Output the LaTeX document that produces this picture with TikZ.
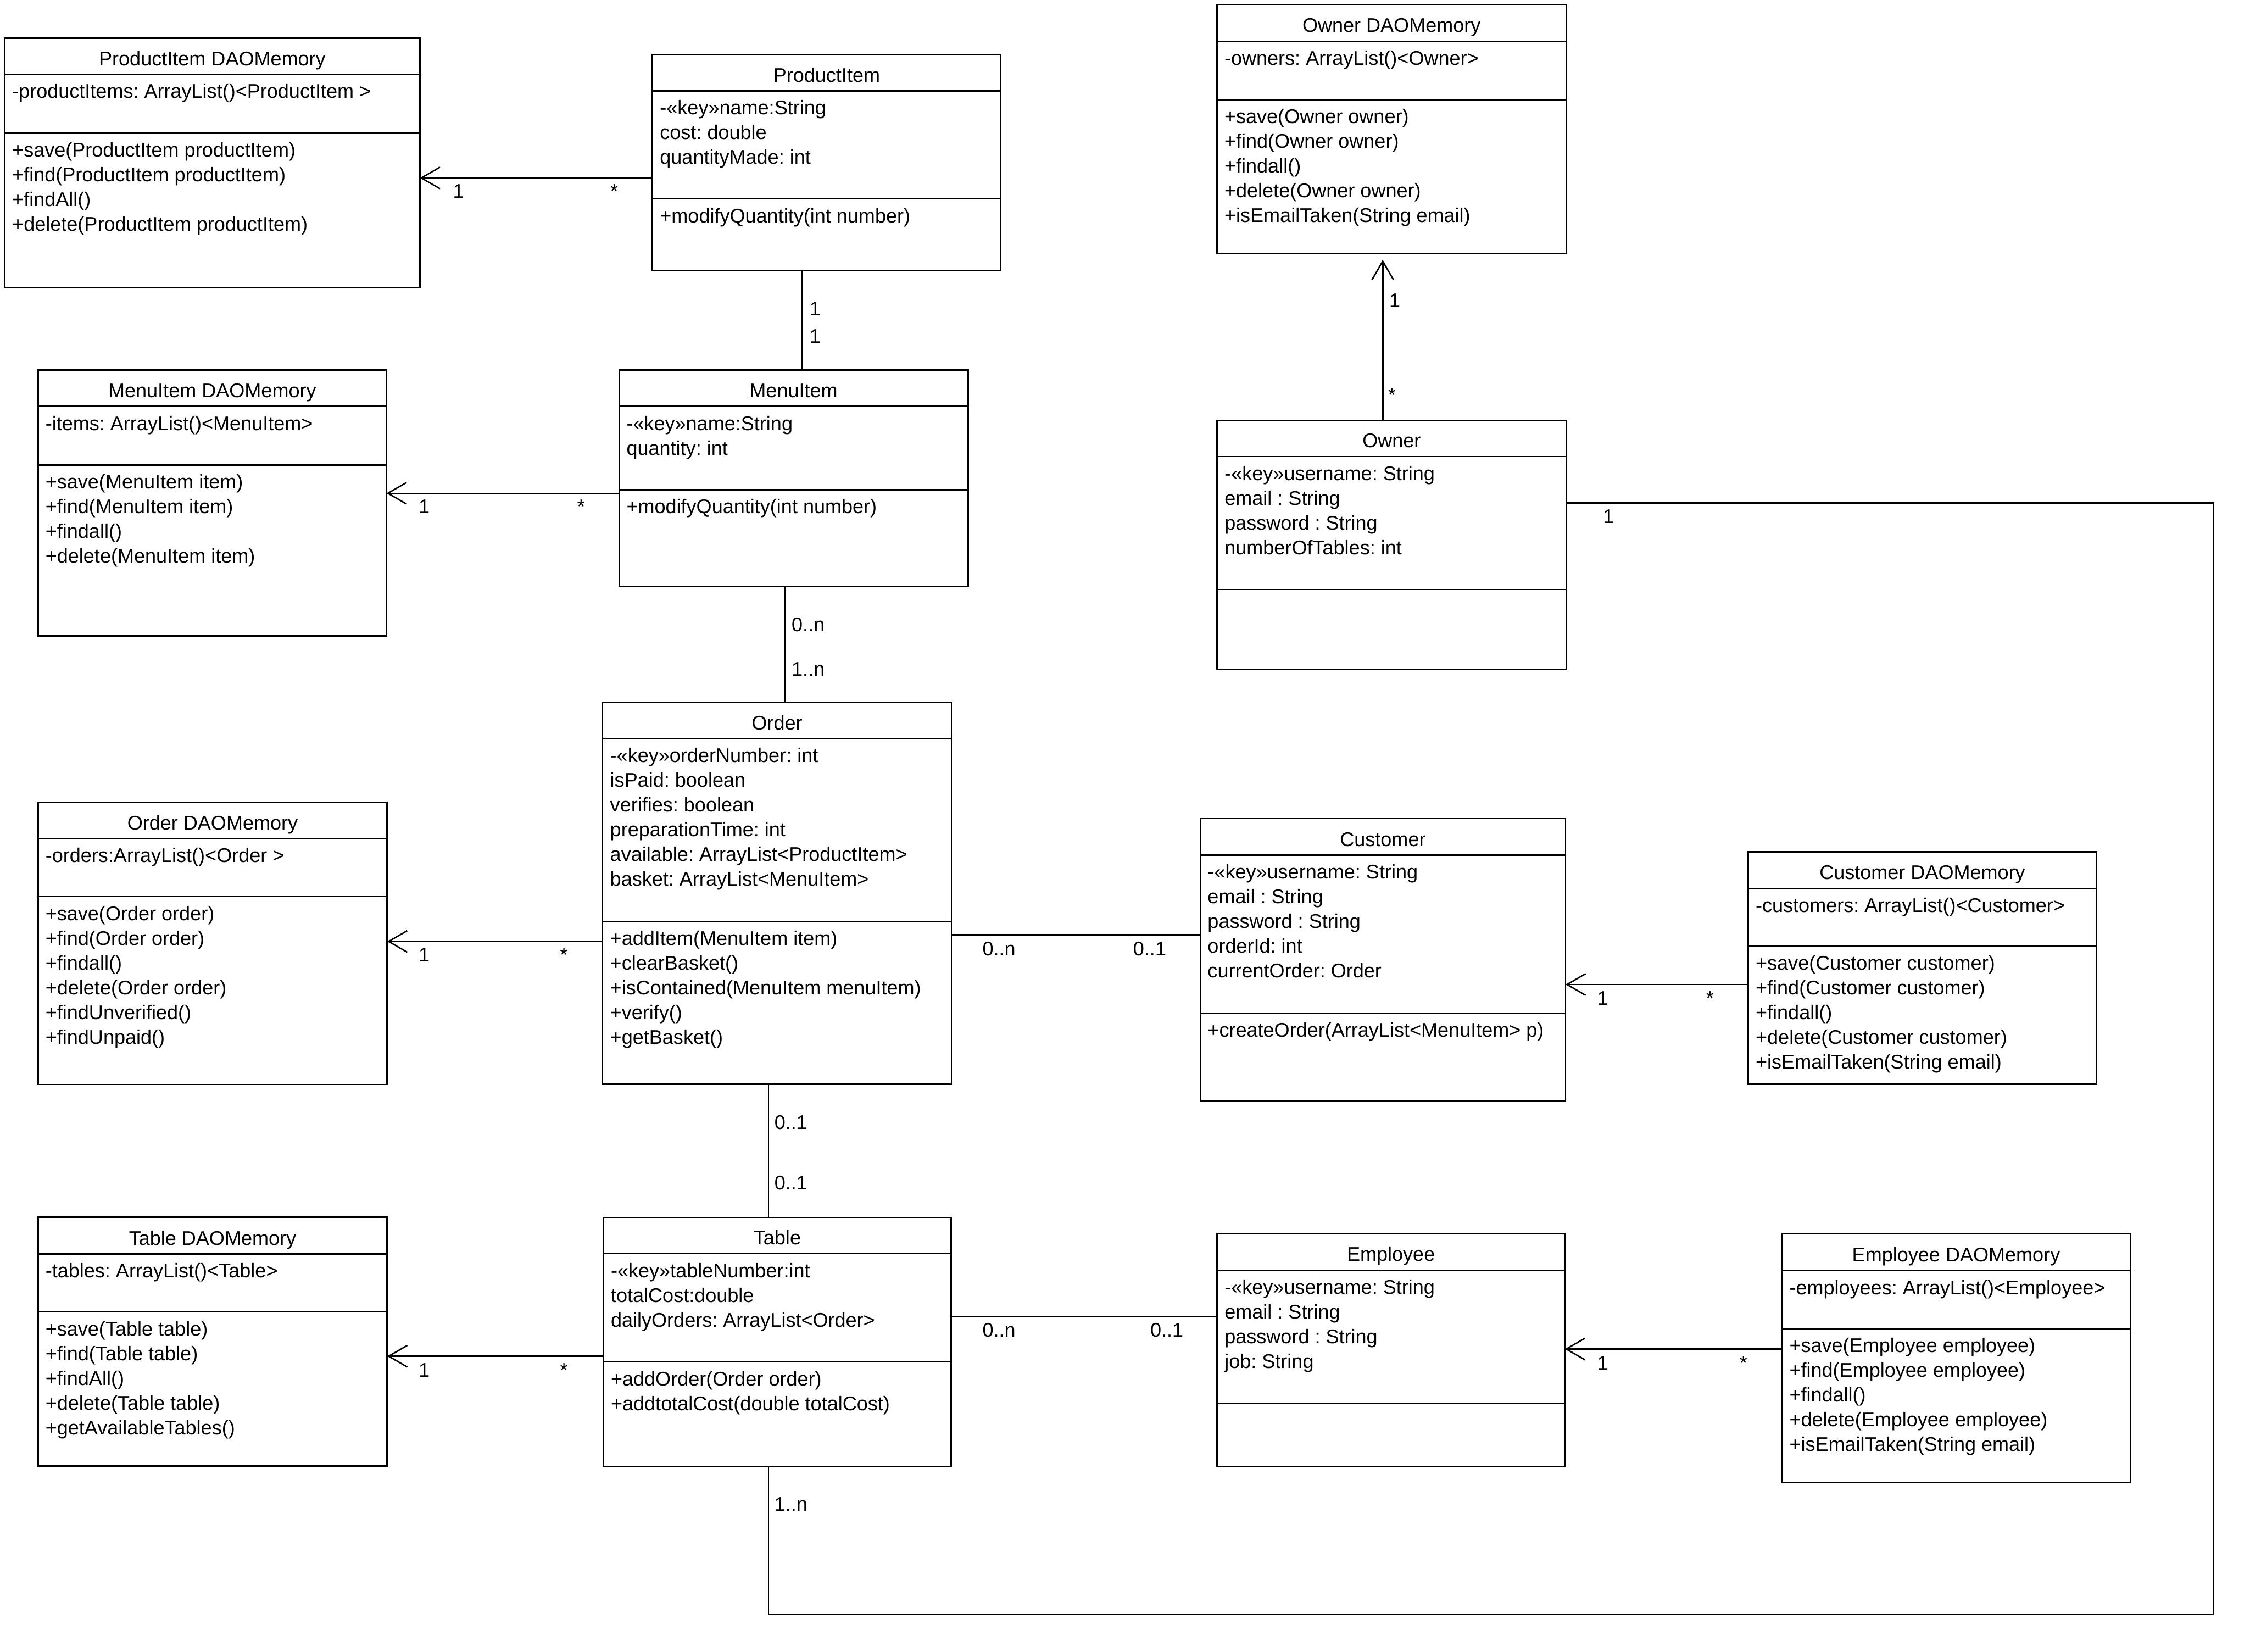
\documentclass[tikz,border=0pt]{standalone}
\usepackage{fontspec}
\setmainfont{Liberation Sans}
\usetikzlibrary{arrows.meta}
\frenchspacing
\tikzset{
  x=1pt, y=-1pt,
  cls/.style={draw, line width=1pt, inner sep=0pt, outer sep=0pt, rectangle},
  sepline/.style={line width=1pt},
  ttl/.style={anchor=base, inner sep=0pt, font=\fontsize{13.8}{17.2}\selectfont\frenchspacing},
  cmp/.style={anchor=north west, inner sep=0pt, align=left, font=\fontsize{13.8}{17.2}\selectfont\frenchspacing},
  lbl/.style={inner sep=0pt, font=\fontsize{13.8}{17.2}\selectfont},
  assoc/.style={line width=1pt},
  nav/.style={line width=1pt, -{Straight Barb[length=13pt,width=15pt]}},
}
% #1 name, #2 left, #3 top, #4 right, #5 bottom, #6 header line, #7 separator line, #8 title
\newcommand\umlclass[8]{%
  \pgfmathsetmacro\uw{#4-#2}\pgfmathsetmacro\uh{#5-#3}%
  \pgfmathsetmacro\ucx{(#2+#4)/2}\pgfmathsetmacro\ucy{(#3+#5)/2}%
  \node[cls, minimum width=\uw pt, minimum height=\uh pt] (#1) at (\ucx,\ucy) {};
  \draw[sepline] (#1.west |- 0,#6) -- (#1.east |- 0,#6);
  \draw[sepline] (#1.west |- 0,#7) -- (#1.east |- 0,#7);
  \pgfmathsetmacro\uty{#6-6.2}%
  \node[ttl] (#1-t) at (\ucx,\uty) {#8};
}
% #1 node name, #2 box left, #3 compartment line y, #4 text
\newcommand\compartment[4]{%
  \node[cmp] (#1) at (#2+5,#3+5.4) {\rule{0pt}{11pt}#4};
}
\begin{document}
\begin{tikzpicture}
\useasboundingbox[fill=white] (0,0) rectangle (1568,1151);

% ---------- classes ----------
\umlclass{pidao}{3.3}{26.7}{292.6}{200.2}{51.8}{92.6}{ProductItem DAOMemory}
\compartment{pidao-a}{3.3}{51.8}{-productItems: ArrayList()<ProductItem >}
\compartment{pidao-m}{3.3}{92.6}{+save(ProductItem productItem)\\+find(ProductItem productItem)\\+findAll()\\+delete(ProductItem productItem)}

\umlclass{pi}{454.7}{38}{697.5}{188.4}{63.4}{138.6}{ProductItem}
\compartment{pi-a}{454.7}{63.4}{-«key»name:String\\cost: double\\quantityMade: int}
\compartment{pi-m}{454.7}{138.6}{+modifyQuantity(int number)}

\umlclass{owdao}{848.1}{3.5}{1091.4}{176.8}{28.7}{69.4}{Owner DAOMemory}
\compartment{owdao-a}{848.1}{28.7}{-owners: ArrayList()<Owner>}
\compartment{owdao-m}{848.1}{69.4}{+save(Owner owner)\\+find(Owner owner)\\+findall()\\+delete(Owner owner)\\+isEmailTaken(String email)}

\umlclass{midao}{26.5}{257.9}{269.3}{443.1}{283.2}{324}{MenuItem DAOMemory}
\compartment{midao-a}{26.5}{283.2}{-items: ArrayList()<MenuItem>}
\compartment{midao-m}{26.5}{324}{+save(MenuItem item)\\+find(MenuItem item)\\+findall()\\+delete(MenuItem item)}

\umlclass{mi}{431.4}{257.9}{674.6}{408.4}{283.2}{341.2}{MenuItem}
\compartment{mi-a}{431.4}{283.2}{-«key»name:String\\quantity: int}
\compartment{mi-m}{431.4}{341.2}{+modifyQuantity(int number)}

\umlclass{own}{848.2}{292.8}{1091.4}{466.3}{318.1}{410.7}{Owner}
\compartment{own-a}{848.2}{318.1}{-«key»username: String\\email : String\\password : String\\numberOfTables: int}

\umlclass{ord}{420}{489.5}{663}{755.5}{514.6}{642}{Order}
\compartment{ord-a}{420}{514.6}{-«key»orderNumber: int\\isPaid: boolean\\verifies: boolean\\preparationTime: int\\available: ArrayList<ProductItem>\\basket: ArrayList<MenuItem>}
\compartment{ord-m}{420}{642}{+addItem(MenuItem item)\\+clearBasket()\\+isContained(MenuItem menuItem)\\+verify()\\+getBasket()}

\umlclass{odao}{26.5}{559.1}{269.8}{755.6}{584.3}{624.8}{Order DAOMemory}
\compartment{odao-a}{26.5}{584.3}{-orders:ArrayList()<Order >}
\compartment{odao-m}{26.5}{624.8}{+save(Order order)\\+find(Order order)\\+findall()\\+delete(Order order)\\+findUnverified()\\+findUnpaid()}

\umlclass{cus}{836.4}{570.4}{1091}{767.1}{595.8}{706}{Customer}
\compartment{cus-a}{836.4}{595.8}{-«key»username: String\\email : String\\password : String\\orderId: int\\currentOrder: Order}
\compartment{cus-m}{836.4}{706}{+createOrder(ArrayList<MenuItem> p)}

\umlclass{cdao}{1218.3}{593.6}{1461}{755.5}{619}{659.3}{Customer DAOMemory}
\compartment{cdao-a}{1218.3}{619}{-customers: ArrayList()<Customer>}
\compartment{cdao-m}{1218.3}{659.3}{+save(Customer customer)\\+find(Customer customer)\\+findall()\\+delete(Customer customer)\\+isEmailTaken(String email)}

\umlclass{tdao}{26.5}{848.2}{269.8}{1021.6}{873.8}{914.2}{Table DAOMemory}
\compartment{tdao-a}{26.5}{873.8}{-tables: ArrayList()<Table>}
\compartment{tdao-m}{26.5}{914.2}{+save(Table table)\\+find(Table table)\\+findAll()\\+delete(Table table)\\+getAvailableTables()}

\umlclass{tab}{420.5}{848.3}{662.8}{1021.7}{873.6}{948.9}{Table}
\compartment{tab-a}{420.5}{873.6}{-«key»tableNumber:int\\totalCost:double\\dailyOrders: ArrayList<Order>}
\compartment{tab-m}{420.5}{948.9}{+addOrder(Order order)\\+addtotalCost(double totalCost)}

\umlclass{emp}{848.2}{859.7}{1090.5}{1021.7}{885.1}{977.8}{Employee}
\compartment{emp-a}{848.2}{885.1}{-«key»username: String\\email : String\\password : String\\job: String}

\umlclass{edao}{1241.8}{859.8}{1484.6}{1033.1}{885.3}{925.8}{Employee DAOMemory}
\compartment{edao-a}{1241.8}{885.3}{-employees: ArrayList()<Employee>}
\compartment{edao-m}{1241.8}{925.8}{+save(Employee employee)\\+find(Employee employee)\\+findall()\\+delete(Employee employee)\\+isEmailTaken(String email)}

% ---------- connectors ----------
\draw[nav] (pi.west |- 0,124) -- (pidao.east |- 0,124);
\node[lbl, anchor=base west] (l-pi1) at (315.5,138) {1};
\node[lbl, anchor=base] (l-pi2) at (428,138) {*};

\draw[assoc] (pi.south -| 558.6,0) -- (mi.north -| 558.6,0);
\node[lbl, anchor=base west] (l-pm1) at (564,220) {1};
\node[lbl, anchor=base west] (l-pm2) at (564,239) {1};

\draw[nav] (mi.west |- 0,343.7) -- (midao.east |- 0,343.7);
\node[lbl, anchor=base west] (l-mi1) at (291.5,357.7) {1};
\node[lbl, anchor=base] (l-mi2) at (405,357.7) {*};

\draw[assoc] (mi.south -| 547.3,0) -- (ord.north -| 547.3,0);
\node[lbl, anchor=base west] (l-mo1) at (551.5,440) {0..n};
\node[lbl, anchor=base west] (l-mo2) at (551.5,471) {1..n};

\coordinate (owtip) at (963.6,181);
\draw[nav] (own.north -| 963.6,297) -- (owtip);
\node[lbl, anchor=base west] (l-ow1) at (968,214) {1};
\node[lbl, anchor=base] (l-ow2) at (970,280) {*};

\coordinate (bend1) at (1542.6,350.4);
\coordinate (bend2) at (1542.6,1125);
\coordinate (bend3) at (535.6,1125);
\draw[assoc] (own.east |- 0,350.4) -- (bend1) -- (bend2) -- (bend3) -- (tab.south -| bend3);
\node[lbl, anchor=base west] (l-ot1) at (1117,364.6) {1};
\node[lbl, anchor=base west] (l-ot2) at (539.5,1053) {1..n};

\draw[nav] (ord.west |- 0,656) -- (odao.east |- 0,656);
\node[lbl, anchor=base west] (l-od1) at (291.5,670) {1};
\node[lbl, anchor=base] (l-od2) at (393,670) {*};

\draw[assoc] (ord.east |- 0,651.4) -- (cus.west |- 0,651.4);
\node[lbl, anchor=base west] (l-oc1) at (684.5,666) {0..n};
\node[lbl, anchor=base west] (l-oc2) at (789.5,666) {0..1};

\draw[nav] (cdao.west |- 0,686) -- (cus.east |- 0,686);
\node[lbl, anchor=base west] (l-cd1) at (1113,700.5) {1};
\node[lbl, anchor=base] (l-cd2) at (1191.6,700.5) {*};

\draw[assoc] (ord.south -| 535.6,0) -- (tab.north -| 535.6,0);
\node[lbl, anchor=base west] (l-ta1) at (539.5,787) {0..1};
\node[lbl, anchor=base west] (l-ta2) at (539.5,829) {0..1};

\draw[nav] (tab.west |- 0,945) -- (tdao.east |- 0,945);
\node[lbl, anchor=base west] (l-td1) at (291.5,959.5) {1};
\node[lbl, anchor=base] (l-td2) at (393,959.5) {*};

\draw[assoc] (tab.east |- 0,917.5) -- (emp.west |- 0,917.5);
\node[lbl, anchor=base west] (l-te1) at (684.5,931.7) {0..n};
\node[lbl, anchor=base west] (l-te2) at (801.4,931.7) {0..1};

\draw[nav] (edao.west |- 0,940) -- (emp.east |- 0,940);
\node[lbl, anchor=base west] (l-ed1) at (1113,954.5) {1};
\node[lbl, anchor=base] (l-ed2) at (1215,954.5) {*};
\end{tikzpicture}
\end{document}
